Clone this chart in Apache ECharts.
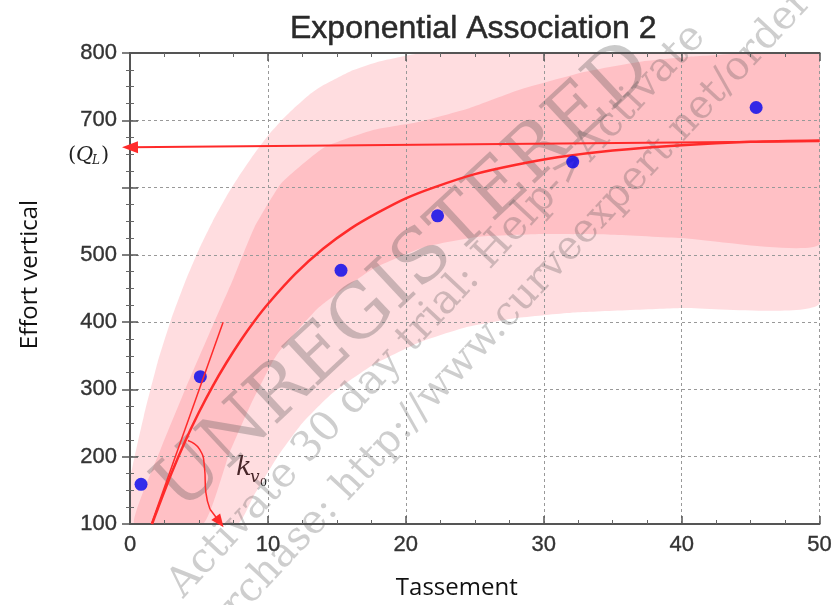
<!DOCTYPE html>
<html>
<head>
<meta charset="utf-8">
<script src="https://cdn.jsdelivr.net/npm/echarts@6/dist/echarts.min.js"></script>
<style>
  html, body { margin: 0; padding: 0; background: #ffffff; }
  #chart { width: 835px; height: 605px; }
</style>
</head>
<body>
<div id="chart"></div>
<script>
// Measured points (Tassement, Effort vertical)
const obsX = [0.8, 5.1, 15.3, 22.3, 32.1, 45.4];
const obsY = [159, 319, 477, 558, 638, 719];

// Fitted exponential association curve
const fitX = [1.6, 2, 3, 4, 5, 6, 7, 8, 9, 10, 12, 14, 16, 18, 20, 22, 25, 28, 31, 35, 40, 45, 50];
const fitY = [100, 122, 175, 223, 266, 305, 340, 372, 401, 427, 472, 509, 539, 563, 584, 600, 620, 634, 645, 655, 663, 668, 670];

// Outer (prediction) band
const predUpX = [0, 1, 2, 3, 4, 5, 6, 7, 8, 9, 10, 11, 12, 13, 14, 16, 18, 20, 22, 26, 30, 40, 50];
const predUpY = [165, 260, 340, 405, 460, 508, 550, 587, 620, 650, 677, 700, 720, 738, 752, 773, 787, 796, 803, 815, 825, 840, 850];
const predLoX = [0, 7.8, 9, 10.7, 12.5, 14.7, 17.5, 21, 24.3, 28, 32, 40, 50];
const predLoY = [100, 100, 143, 200, 250, 295, 335, 370, 392, 406, 414, 421, 428];

// Inner (confidence) band
const confUpX = [0.3, 2.2, 4, 6, 7.5, 9, 11, 14.1, 17.7, 21, 24.6, 28.2, 33, 37, 41, 45, 50];
const confUpY = [100, 210, 300, 395, 465, 540, 607, 660, 686, 698, 718, 745, 772, 787, 795, 800, 806];
const confLoX = [5.3, 7.2, 8.7, 10.6, 13.7, 17.6, 21.4, 25.3, 30, 35, 40, 50];
const confLoY = [100, 205, 275, 350, 422, 479, 512, 527, 531, 530, 525, 516];

// Annotation lines, in data units
const qlArrowX = [50, 0];
const qlArrowY = [669, 660];
const tangentX = [1.55, 6.75];
const tangentY = [100, 400];
// hooked pointer under the k_v0 label (last pair carries the arrow head)
const kPathX = [4.2, 5.05, 5.4, 5.5, 5.8];
const kPathY = [224, 211, 184, 147, 122];
const kHeadX = [5.8, 6.5];
const kHeadY = [122, 103];

// Axis tick labels
const yTickLabels = { 100: '100', 200: '200', 300: '300', 400: '400', 500: '500', 600: '', 700: '700', 800: '800' };

const RED = '#ff2a2a';

function bandSeries(upX, upY, loX, loY, fill, z) {
  return {
    type: 'custom',
    z: z,
    clip: true,
    silent: true,
    data: [[0, 100]],
    renderItem: function (params, api) {
      const pts = [];
      for (let i = 0; i < upX.length; i++) pts.push(api.coord([upX[i], upY[i]]));
      for (let i = loX.length - 1; i >= 0; i--) pts.push(api.coord([loX[i], loY[i]]));
      return { type: 'polygon', shape: { points: pts, smooth: 0.15 }, style: { fill: fill } };
    }
  };
}

const chart = echarts.init(document.getElementById('chart'), null, { renderer: 'canvas' });

const tickFont = {
  fontFamily: '"Liberation Sans", Arial, sans-serif', fontSize: 22, color: '#333333',
  textBorderColor: '#333333', textBorderWidth: 0.35
};
const frameLine = { show: true, lineStyle: { color: '#555555', width: 2 } };

const option = {
  animation: false,
  backgroundColor: '#ffffff',
  title: {
    text: 'Exponential Association 2',
    left: 285,
    top: 8,
    textStyle: {
      fontFamily: '"Liberation Sans", Arial, sans-serif', fontSize: 32, fontWeight: 'normal', color: '#2a2a2a',
      textBorderColor: '#2a2a2a', textBorderWidth: 0.5
    }
  },
  grid: { left: 130, right: 14, top: 53, bottom: 78, containLabel: false },
  xAxis: [{
    type: 'value', min: 0, max: 50, interval: 10, position: 'bottom', z: 1.2,
    name: 'Tassement', nameLocation: 'middle', nameGap: 52,
    nameTextStyle: { fontFamily: '"Open Sans", sans-serif', fontSize: 24, color: '#111111', padding: [0, 36, 0, 0] },
    axisLine: frameLine,
    axisTick: { show: true, inside: true, length: 8, lineStyle: { color: '#555555', width: 1.5 } },
    minorTick: { show: true, splitNumber: 4, length: 4, lineStyle: { color: '#666666', width: 1 } },
    axisLabel: Object.assign({ margin: 10 }, tickFont),
    splitLine: { show: true, lineStyle: { color: '#999999', width: 1, type: [3, 3] } }
  }, {
    type: 'value', min: 0, max: 50, interval: 10, position: 'top', z: 1.2,
    axisLine: frameLine,
    axisTick: { show: true, inside: true, length: 8, lineStyle: { color: '#555555', width: 1.5 } },
    minorTick: { show: true, splitNumber: 4, length: 4, lineStyle: { color: '#666666', width: 1 } },
    axisLabel: { show: false },
    splitLine: { show: false }
  }],
  yAxis: [{
    type: 'value', min: 100, max: 800, interval: 100, position: 'left', z: 1.2,
    name: 'Effort vertical', nameLocation: 'middle', nameGap: 88, nameRotate: 90,
    nameTextStyle: { fontFamily: '"Open Sans", sans-serif', fontSize: 24, color: '#111111', padding: [0, 0, 0, 28] },
    axisLine: frameLine,
    axisTick: { show: true, inside: true, length: 8, lineStyle: { color: '#555555', width: 1.5 } },
    minorTick: { show: true, splitNumber: 4, length: 4, lineStyle: { color: '#666666', width: 1 } },
    axisLabel: Object.assign({ margin: 13, formatter: function (v) { return yTickLabels[v] !== undefined ? yTickLabels[v] : String(v); } }, tickFont),
    splitLine: { show: true, lineStyle: { color: '#999999', width: 1, type: [3, 3] } }
  }, {
    type: 'value', min: 100, max: 800, interval: 100, position: 'right', z: 1.2,
    axisLine: frameLine,
    axisTick: { show: true, inside: true, length: 8, lineStyle: { color: '#555555', width: 1.5 } },
    minorTick: { show: true, splitNumber: 4, length: 4, lineStyle: { color: '#666666', width: 1 } },
    axisLabel: { show: false },
    splitLine: { show: false }
  }],
  series: [
    bandSeries(predUpX, predUpY, predLoX, predLoY, 'rgba(255, 110, 120, 0.23)', 1),
    bandSeries(confUpX, confUpY, confLoX, confLoY, 'rgba(255, 110, 120, 0.26)', 1.1),
    {
      type: 'line',
      z: 3,
      data: fitX.map((x, i) => [x, fitY[i]]),
      smooth: 0.3,
      showSymbol: false,
      clip: true,
      lineStyle: { color: RED, width: 2.5 },
      markLine: {
        silent: true,
        animation: false,
        label: { show: false },
        lineStyle: { color: RED, type: 'solid' },
        data: [
          [
            { coord: [qlArrowX[0], qlArrowY[0]], symbol: 'none' },
            { coord: [qlArrowX[1], qlArrowY[1]], symbol: 'triangle', symbolSize: [12, 16], lineStyle: { color: RED, width: 2, type: 'solid' } }
          ],
          [
            { coord: [tangentX[0], tangentY[0]], symbol: 'none' },
            { coord: [tangentX[1], tangentY[1]], symbol: 'none', lineStyle: { color: RED, width: 1.5, type: 'solid' } }
          ]
        ]
      }
    },
    {
      // hooked pointer body
      type: 'line',
      z: 3,
      data: kPathX.map((x, i) => [x, kPathY[i]]),
      smooth: 0.5,
      showSymbol: false,
      silent: true,
      lineStyle: { color: RED, width: 1.5 },
      markLine: {
        silent: true,
        animation: false,
        label: { show: false },
        symbol: ['none', 'triangle'],
        symbolSize: [11, 13],
        lineStyle: { color: RED, width: 1.5, type: 'solid' },
        data: [[{ coord: [kHeadX[0], kHeadY[0]] }, { coord: [kHeadX[1], kHeadY[1]] }]]
      }
    },
    {
      type: 'scatter',
      z: 4,
      data: obsX.map((x, i) => [x, obsY[i]]),
      symbol: 'circle',
      symbolSize: 13,
      itemStyle: { color: '#0000ee' }
    }
  ],
  graphic: [
    // trial-version stamp of the fitting program
    {
      type: 'text', z: 2, silent: true,
      x: 405, y: 278, rotation: 43 * Math.PI / 180,
      style: { text: 'UNREGISTERED', font: '74px "DejaVu Serif", serif', fill: 'rgba(80, 80, 80, 0.30)', align: 'center', verticalAlign: 'middle' }
    },
    {
      type: 'text', z: 2, silent: true,
      x: 437, y: 311, rotation: 47 * Math.PI / 180,
      style: { text: 'Activate 30 day trial: Help->Activate', font: '41px "DejaVu Serif", serif', fill: 'rgba(80, 80, 80, 0.28)', align: 'center', verticalAlign: 'middle' }
    },
    {
      type: 'text', z: 2, silent: true,
      x: 500, y: 323, rotation: 47 * Math.PI / 180,
      style: { text: 'purchase: http://www.curveexpert.net/order', font: '40px "DejaVu Serif", serif', fill: 'rgba(80, 80, 80, 0.28)', align: 'center', verticalAlign: 'middle' }
    },
    // Q_L label beside the asymptote arrow
    {
      type: 'group', z: 5, x: 68, y: 145,
      children: [
        { type: 'text', x: 0, y: 0, style: { text: '(', font: '21px "DejaVu Serif", serif', fill: '#222' } },
        { type: 'text', x: 8, y: 0, style: { text: 'Q', font: 'italic 21px "DejaVu Serif", serif', fill: '#222' } },
        { type: 'text', x: 24, y: 10, style: { text: 'L', font: 'italic 12px "DejaVu Serif", serif', fill: '#222' } },
        { type: 'text', x: 33, y: 0, style: { text: ')', font: '21px "DejaVu Serif", serif', fill: '#222' } }
      ]
    },
    // k_v0 label box
    {
      type: 'group', z: 5, x: 217, y: 440,
      children: [
        { type: 'rect', shape: { x: 0, y: 0, width: 60, height: 60 }, style: { fill: '#ffffff' } },
        { type: 'text', x: 19, y: 15, style: { text: 'k', font: 'italic 26px "DejaVu Serif", serif', fill: '#111' } },
        { type: 'text', x: 33, y: 29, style: { text: 'v', font: 'italic 17px "DejaVu Serif", serif', fill: '#111' } },
        { type: 'text', x: 43, y: 38, style: { text: '0', font: '11px "DejaVu Serif", serif', fill: '#111' } }
      ]
    }
  ]
};

chart.setOption(option);
</script>
</body>
</html>
